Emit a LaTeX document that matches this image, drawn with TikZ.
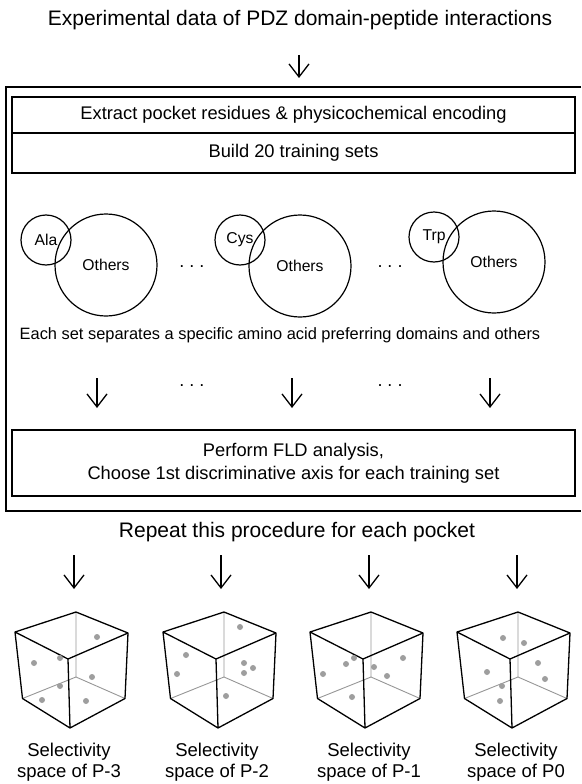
\documentclass[tikz,border=0pt]{standalone}
\usepackage{fontspec}
\setmainfont{Liberation Sans}
\usepackage{tikz}
\usetikzlibrary{arrows.meta, positioning}
\definecolor{edgegray}{RGB}{150,150,150}
\definecolor{pointgray}{RGB}{158,158,158}

\begin{document}
\begin{tikzpicture}[
    x=1pt, y=-1pt,
    headline/.style={font=\fontsize{21}{25}\selectfont, inner sep=0pt},
    stagebox/.style={
        rectangle, draw=black, line width=1.3pt, outer sep=0pt,
        minimum width=563pt, align=center, font=\fontsize{18.3}{23}\selectfont
    },
    setcirc/.style={
        circle, draw=black, line width=1.2pt, inner sep=0pt, font=\fontsize{15.7}{18}\selectfont
    },
    setnote/.style={font=\fontsize{16.4}{20}\selectfont, inner sep=0pt},
    ellip/.style={font=\fontsize{18}{20}\selectfont, inner sep=0pt},
    flow/.style={-{Straight Barb[length=13pt, width=20pt]}, line width=1.3pt},
    cubeedge/.style={line width=1.3pt, line join=round},
    hiddenedge/.style={line width=0.9pt, draw=edgegray},
    spacelabel/.style={align=center, font=\fontsize{18.5}{21}\selectfont, inner sep=0pt}
]
\useasboundingbox (0,0) rectangle (581,784);

% Input
\node[headline] (title) at (300,20) {Experimental data of PDZ domain-peptide interactions};
\coordinate (in-top) at (299,55);
\coordinate (in-end) at (299,78);
\draw[flow] (in-top) -- (in-end);

% Procedure frame
\draw[line width=2pt] (581,87) -- (6,87) -- (6,511) -- (581,511);

\node[stagebox, minimum height=36pt] (extract) at (293.5,115) {Extract pocket residues \& physicochemical encoding};
\node[stagebox, minimum height=40pt, below=0pt of extract] (build) {Build 20 training sets};

% Training sets
\node[setcirc, minimum size=102pt] (ala-rest) at (106,265) {Others};
\node[setcirc, minimum size=50pt] (ala) at (46,240) {Ala};
\node[setcirc, minimum size=102pt] (cys-rest) at (300,266) {Others};
\node[setcirc, minimum size=50pt] (cys) at (240,240) {Cys};
\node[setcirc, minimum size=102pt] (trp-rest) at (494,262) {Others};
\node[setcirc, minimum size=50pt] (trp) at (434,237) {Trp};

\node[ellip] (gap1) at (192,267) {.\ .\ .};
\node[ellip] (gap2) at (390,267) {.\ .\ .};

\node[setnote] (sepnote) at (280,335) {Each set separates a specific amino acid preferring domains and others};

\foreach \x/\n in {97/ala, 292/cys, 490/trp} {
    \coordinate (\n-top) at (\x,378);
    \coordinate (\n-end) at (\x,408);
    \draw[flow] (\n-top) -- (\n-end);
}
\node[ellip] (gap3) at (192,386) {.\ .\ .};
\node[ellip] (gap4) at (390,386) {.\ .\ .};

\node[stagebox, minimum height=66pt] (fld) at (293.5,463) {Perform FLD analysis,\\Choose 1st discriminative axis for each training set};

% Pockets
\node[headline] (repeat) at (297,532) {Repeat this procedure for each pocket};

\foreach \x/\n in {74/p3, 221/p2, 369/p1, 517/p0} {
    \coordinate (\n-top) at (\x,555);
    \coordinate (\n-end) at (\x,589);
    \draw[flow] (\n-top) -- (\n-end);
}

% Selectivity spaces
\foreach \dx in {0,148,295,442} {
    \begin{scope}[shift={(\dx,0)}]
        \coordinate (tb) at (76,612);
        \coordinate (tl) at (15,632);
        \coordinate (tr) at (128,633);
        \coordinate (tf) at (68,659);
        \coordinate (bl) at (22.5,698.5);
        \coordinate (br) at (125,698.5);
        \coordinate (bf) at (70,728);
        \coordinate (bb) at (76,677);
        \draw[hiddenedge] (tb) -- (bb) (bl) -- (bb) -- (br);
        \draw[cubeedge] (tl) -- (tb) -- (tr) -- (tf) -- cycle
            (tl) -- (bl) -- (bf) -- (br) -- (tr)
            (tf) -- (bf);
    \end{scope}
}
\foreach \px/\py in {97/637, 34/663, 60/658, 92/677, 60/686, 42/700, 86/701,
                     240/627, 186/655, 177/674, 244/663, 253/668, 244/673, 226/696,
                     323/674, 346/664, 354/658, 374/667, 387/676, 403/658, 352/697,
                     503/638, 524/643, 538/663, 487/672, 545/679, 502/686, 500/701}
    \fill[pointgray] (\px,\py) circle (3pt);

\node[spacelabel] (space-p3) at (69,762) {Selectivity\\space of P-3};
\node[spacelabel] (space-p2) at (217,762) {Selectivity\\space of P-2};
\node[spacelabel] (space-p1) at (369,762) {Selectivity\\space of P-1};
\node[spacelabel] (space-p0) at (516,762) {Selectivity\\space of P0};

\end{tikzpicture}
\end{document}
